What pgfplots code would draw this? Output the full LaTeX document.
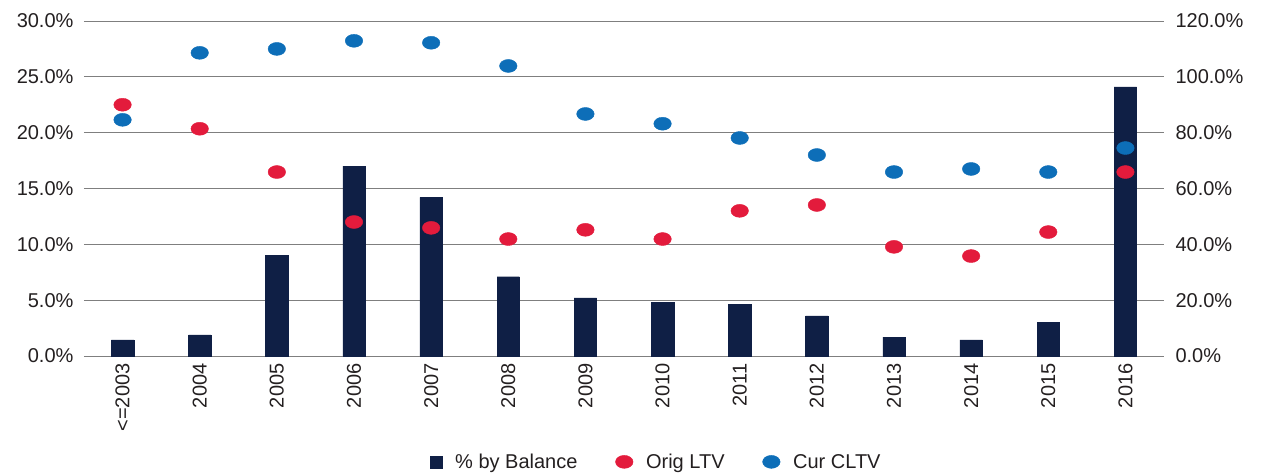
\documentclass[border=0pt]{standalone}
\usepackage{pgfplots}
\pgfplotsset{compat=1.18}
\usepackage{fontspec}
\setmainfont{Liberation Sans}
\definecolor{navy}{HTML}{0F1F45}
\definecolor{rred}{HTML}{E31B3C}
\definecolor{bblue}{HTML}{0D6EB8}
\definecolor{txt}{HTML}{231F20}
\definecolor{gridc}{HTML}{7F7F7F}
\begin{document}
\begin{tikzpicture}[font=\fontsize{20}{24}\selectfont]
\pgfplotsset{
  common/.style={
    scale only axis, width=1080pt, height=335pt,
    xmin=-0.5, xmax=13.5,
    xtick={0,...,13},
    tick style={draw=none},
    axis line style={draw=none},
    tick label style={text=txt},
    /pgf/number format/assume math mode=true,
  }
}
\begin{axis}[common, name=ax,
  ymin=0, ymax=30, ytick={0,5,...,30},
  ymajorgrids, grid style={gridc, line width=0.9pt},
  yticklabel={\pgfmathprintnumber[fixed,fixed zerofill,precision=1]{\tick}\%},
  xticklabels={{<=2003},2004,2005,2006,2007,2008,2009,2010,2011,2012,2013,2014,2015,2016},
  xticklabel style={rotate=90, anchor=east, xshift=-4pt},
  yticklabel style={xshift=-7pt},
]
\addplot[ybar, bar width=0.29, fill=navy, draw=navy, bar shift=0pt] coordinates {
(0,1.45) (1,1.9) (2,9.0) (3,17.0) (4,14.2) (5,7.1) (6,5.2) (7,4.8) (8,4.6) (9,3.6) (10,1.7) (11,1.45) (12,3.0) (13,24.1)};
\end{axis}
\begin{axis}[common,
  ymin=0, ymax=120, ytick={0,20,...,120},
  axis y line*=right, axis x line=none,
  xticklabels={},
  yticklabel={\pgfmathprintnumber[fixed,fixed zerofill,precision=1]{\tick}\%},
  yticklabel style={xshift=8pt},
  legend style={at={(0.53,-0.316)}, anchor=center, draw=none, fill=none,
    legend columns=-1, font=\fontsize{20}{24}\selectfont, text=txt,
    /tikz/every even column/.append style={column sep=36pt},
    /tikz/every odd column/.append style={column sep=11pt}},
]
\addlegendimage{only marks, mark=square*, mark size=6pt, mark options={fill=navy, draw=navy}}
\addlegendentry{\% by Balance}
\addplot[only marks, mark=*, mark size=6.5pt, mark options={fill=rred, draw=rred, xscale=1.35}] coordinates {
(0,90.0) (1,81.4) (2,65.9) (3,48.0) (4,45.9) (5,41.9) (6,45.2) (7,41.9) (8,52.0) (9,54.1) (10,39.1) (11,35.8) (12,44.4) (13,65.9)};
\addlegendentry{Orig LTV}
\addplot[only marks, mark=*, mark size=6.5pt, mark options={fill=bblue, draw=bblue, xscale=1.35}] coordinates {
(0,84.6) (1,108.6) (2,110.0) (3,112.9) (4,112.2) (5,103.9) (6,86.7) (7,83.2) (8,78.1) (9,72.0) (10,65.9) (11,67.0) (12,65.9) (13,74.5)};
\addlegendentry{Cur CLTV}
\end{axis}
\path[use as bounding box] ([shift={(-84pt,-118pt)}]ax.south west) rectangle ([shift={(1180pt,356pt)}]ax.south west);
\end{tikzpicture}
\end{document}
